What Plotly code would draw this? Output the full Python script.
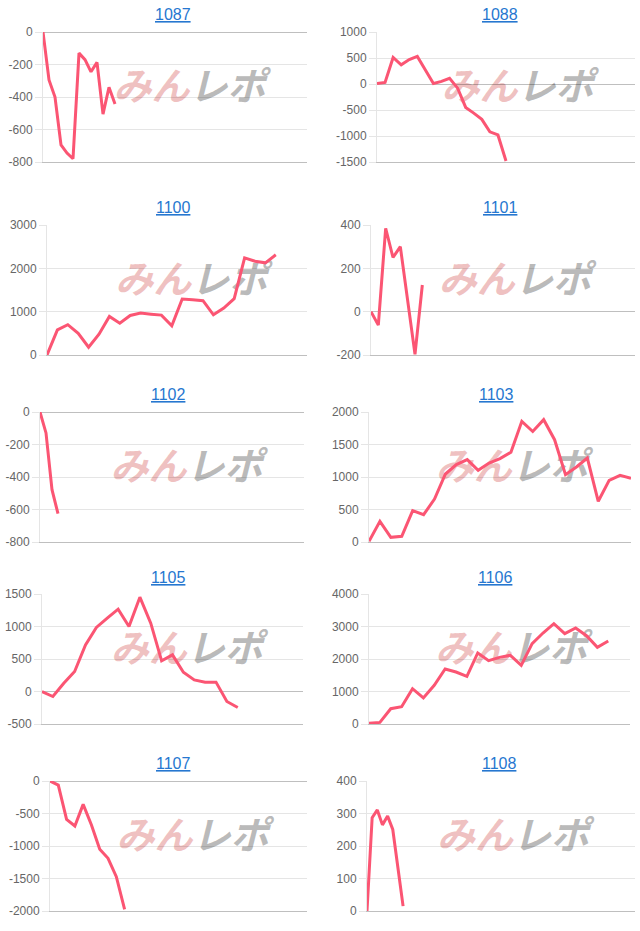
import plotly.graph_objects as go

# ---------------- data ----------------
titles = ["1087", "1088", "1100", "1101", "1102", "1103", "1105", "1106", "1107", "1108"]

v1087 = [0, -295, -400, -695, -745, -780, -130, -170, -245, -187, -505, -340, -443]
v1088 = [10, 30, 510, 370, 470, 530, 270, 10, 50, 110, -80, -450, -560, -680, -920, -980, -1480]
v1100 = [0, 580, 700, 500, 180, 480, 890, 735, 913, 967, 943, 920, 673, 1292, 1275, 1253,
         928, 1082, 1300, 2243, 2165, 2127, 2312]
v1101 = [0, -62, 385, 250, 300, 50, -197, 123]
v1102 = [0, -129, -478, -626]
v1103 = [10, 318, 72, 87, 482, 420, 660, 1046, 1190, 1267, 1103, 1215, 1282, 1380, 1856,
         1700, 1882, 1574, 1036, 1154, 1292, 626, 949, 1026, 980]
v1105 = [0, -77, 128, 308, 718, 985, 1128, 1267, 1000, 1451, 1051, 472, 564, 297, 179,
         144, 144, -154, -246]
v1106 = [20, 50, 470, 533, 1087, 800, 1190, 1692, 1600, 1467, 2185, 1949, 2051, 2113,
         1805, 2472, 2800, 3087, 2780, 2954, 2718, 2359, 2554]
v1107 = [0, -62, -590, -692, -359, -677, -1051, -1190, -1472, -1974]
v1108 = [0, 287, 311, 265, 292, 251, 133, 15]

series = [v1087, v1088, v1100, v1101, v1102, v1103, v1105, v1106, v1107, v1108]

# number of (date) categories on each chart's x axis
n_labels = [45, 33, 26, 37, 45, 25, 25, 25, 32, 53]

# y axis ranges and tick steps
y_min = [-800, -1500, 0, -200, -800, 0, -500, 0, -2000, 0]
y_max = [0, 1000, 3000, 400, 0, 2000, 1500, 4000, 0, 400]
y_step = [200, 500, 1000, 200, 200, 500, 500, 1000, 500, 100]

# ---------------- layout (pixels) ----------------
W, H = 640, 931
plot_lr = [(43, 307), (377, 635), (47, 307), (371, 635), (40, 304),
           (369, 631), (42, 303), (369, 630), (50, 307), (367, 635)]
row_tb = [(32, 162), (225, 355), (412, 542), (594, 724), (781, 911)]
title_xy = [(173, 14), (500, 14), (173, 207), (500, 207), (168, 395),
            (496, 395), (168, 577), (495, 577), (173, 763), (499, 763)]

LINE = "#fb5573"
GRID = "rgba(0,0,0,0.1)"
DARK = "rgba(0,0,0,0.25)"
TICKF = dict(family="Liberation Sans, Arial, sans-serif", size=12, color="#666666")

fig = go.Figure()
layout = dict(
    width=W, height=H, margin=dict(l=0, r=0, t=0, b=0, autoexpand=False),
    paper_bgcolor="white", plot_bgcolor="white", showlegend=False,
    annotations=[], shapes=[],
)

for i, vals in enumerate(series):
    k = "" if i == 0 else str(i + 1)
    row = i // 2
    left, right = plot_lr[i]
    top, bottom = row_tb[row]
    fig.add_trace(go.Scatter(
        x=list(range(len(vals))), y=vals, mode="lines",
        line=dict(color=LINE, width=3), xaxis="x" + k, yaxis="y" + k,
        hoverinfo="y",
    ))
    tv = list(range(y_min[i], y_max[i] + 1, y_step[i]))
    layout["xaxis" + k] = dict(
        domain=[left / W, right / W], anchor="y" + k,
        range=[0, n_labels[i] - 1], showgrid=False, zeroline=False,
        showticklabels=False, ticks="", showline=True, linecolor=DARK, linewidth=1,
        fixedrange=True, automargin=False,
    )
    layout["yaxis" + k] = dict(
        domain=[1 - bottom / H, 1 - top / H], anchor="x" + k,
        range=[y_min[i], y_max[i]], tickvals=tv, ticktext=[str(v) for v in tv],
        showgrid=True, gridcolor=GRID, gridwidth=1,
        zeroline=True, zerolinecolor=DARK, zerolinewidth=1,
        showline=True, linecolor=GRID, linewidth=1,
        ticks="outside", ticklen=7, tickcolor=GRID, tickfont=TICKF,
        fixedrange=True, automargin=False,
    )
    tx, ty = title_xy[i]
    layout["annotations"].append(dict(
        text="<u>" + titles[i] + "</u>", x=tx / W, y=1 - ty / H,
        xref="paper", yref="paper", xanchor="center", yanchor="middle",
        showarrow=False,
        font=dict(family="Liberation Sans, Arial, sans-serif", size=16, color="#2677d0"),
    ))
    cx = 0.555 if i % 2 == 0 else 0.545
    layout["shapes"].append(dict(
        type="rect", xref="x" + k + " domain", yref="y" + k + " domain",
        x0=cx - 0.3, x1=cx + 0.3, y0=0.44, y1=0.68,
        line=dict(width=0), fillcolor="rgba(0,0,0,0)", layer="below",
        label=dict(
            text="<b><i><span style='color:rgba(226,140,140,0.55)'>みん</span>"
                 "<span style='color:rgba(140,140,140,0.6)'>レポ</span></i></b>",
            textposition="middle center",
            font=dict(family="Noto Sans CJK JP", size=38),
        ),
    ))

fig.update_layout(**layout)
fig.write_html("out.html")
